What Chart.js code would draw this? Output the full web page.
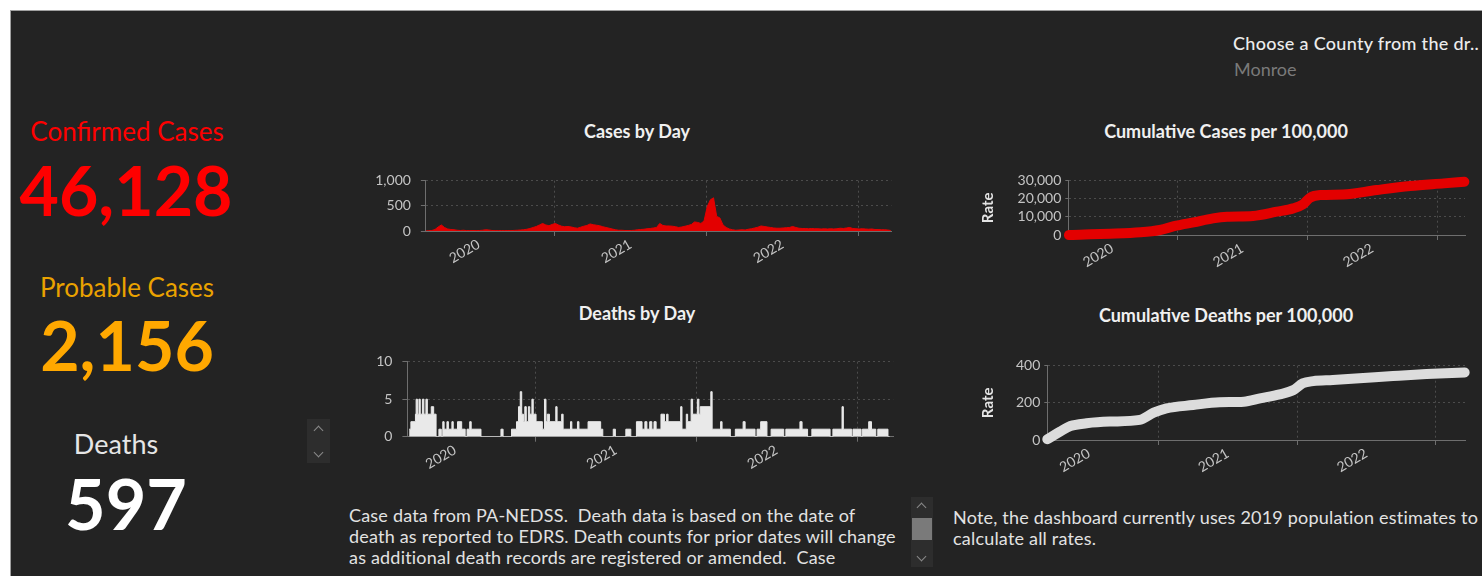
<!DOCTYPE html>
<html><head><meta charset="utf-8">
<script src="https://cdn.jsdelivr.net/npm/chart.js@4.4.0/dist/chart.umd.min.js"></script>
<style>
html,body{margin:0;padding:0;background:#fff;}
body{width:1482px;height:576px;position:relative;overflow:hidden;font-family:Lato,"Noto Sans",sans-serif;}
#panel{position:absolute;left:10px;top:10px;width:1472px;height:566px;background:#232323;border-top:1px solid #a0a0a0;border-left:1px solid #a0a0a0;}
.t{position:absolute;white-space:nowrap;line-height:1;}
.c{transform:translateX(-50%);}
canvas{position:absolute;}
.ttl{font-size:18px;font-weight:700;color:#f0f0f0;}
.big{font-weight:700;}
.para{position:absolute;font-size:18px;letter-spacing:0.2px;line-height:21px;color:#e2e2e2;white-space:nowrap;overflow:hidden;}
.sb{position:absolute;background:#2d2d2d;}
.chev{position:absolute;width:6px;height:6px;border-left:1.5px solid #8a8a8a;border-top:1.5px solid #8a8a8a;}
.up{transform:rotate(45deg);}
.dn{transform:rotate(225deg);}
</style>
</head><body>
<div id="panel"></div>

<div class="t" style="left:1233px;top:34px;font-size:18px;letter-spacing:0.3px;font-weight:500;color:#ececec;">Choose a County from the dr..</div>
<div class="t" style="left:1234px;top:60px;font-size:18px;color:#7a7a7a;">Monroe</div>

<div class="t c" style="left:127px;top:118px;font-size:26px;color:#ff0000;">Confirmed Cases</div>
<div class="t c big" style="left:126px;top:156px;font-size:68px;color:#ff0000;">46,128</div>
<div class="t c" style="left:127px;top:274px;font-size:26px;color:#eaa200;">Probable Cases</div>
<div class="t c big" style="left:127px;top:311px;font-size:68px;color:#ffa800;">2,156</div>
<div class="t c" style="left:116px;top:430px;font-size:27px;color:#e6e6e6;">Deaths</div>
<div class="t c big" style="left:126px;top:468px;font-size:70px;color:#ffffff;">597</div>

<div class="sb" style="left:307px;top:419px;width:23px;height:44px;"></div>
<div class="chev up" style="left:315px;top:427px;"></div>
<div class="chev dn" style="left:315px;top:449px;"></div>

<div class="t c ttl" style="left:637px;top:122px;">Cases by Day</div>
<div class="t c ttl" style="left:637px;top:304px;">Deaths by Day</div>
<div class="t c ttl" style="left:1226px;top:122px;">Cumulative Cases per 100,000</div>
<div class="t c ttl" style="left:1226px;top:306px;">Cumulative Deaths per 100,000</div>

<canvas id="cA" width="560" height="110" style="left:340px;top:170px"></canvas>
<canvas id="cB" width="560" height="130" style="left:340px;top:350px"></canvas>
<canvas id="cC" width="515" height="110" style="left:960px;top:170px"></canvas>
<canvas id="cD" width="515" height="125" style="left:960px;top:355px"></canvas>

<div class="para" style="left:349px;top:505px;width:560px;height:63px;">Case data from PA-NEDSS.&nbsp; Death data is based on the date of<br>death as reported to EDRS. Death counts for prior dates will change<br>as additional death records are registered or amended.&nbsp; Case</div>

<div class="sb" style="left:911px;top:497px;width:22px;height:70px;"></div>
<div class="chev up" style="left:918px;top:504px;"></div>
<div style="position:absolute;left:912px;top:518px;width:20px;height:22px;background:#7a7a7a;"></div>
<div class="chev dn" style="left:918px;top:553px;"></div>

<div class="para" style="left:953px;top:507px;width:529px;height:50px;">Note, the dashboard currently uses 2019 population estimates to<br>calculate all rates.</div>

<script>
// ---- data (x = months since Jan 1 2020) ----
const caseStartMonth = 1.8;
const caseWeekStep = 0.25;
const casesByDay = [0,5,10,30,80,120,70,40,30,25,
 15,10,15,8,8,10,8,10,15,25,
 20,10,8,8,10,8,10,8,12,15,
 20,25,35,50,70,90,120,150,120,105,
 130,150,120,95,85,90,80,65,55,75,
 95,110,140,125,115,105,85,70,55,40,
 25,15,15,10,10,10,15,25,30,35,
 45,50,60,70,150,110,100,100,95,85,
 70,80,95,110,130,180,170,150,200,480,
 620,660,290,260,120,70,40,25,15,20,
 25,20,35,45,60,75,100,90,80,70,
 60,55,55,60,65,70,90,70,55,50,
 50,45,50,45,45,40,45,40,45,40,
 45,55,50,60,70,50,45,40,45,40,
 35,40,30,30,25,25,20,10];

const deathSteps = [[2.58,1],[2.71,2],[3.05,3],[3.10,5],[3.20,3],[3.31,5],[3.41,3],[3.57,5],[3.68,3],[3.83,5],
 [3.94,3],[4.23,4],[4.41,3],[4.59,0],[4.80,1],[4.98,0],[5.09,2],[5.19,1],[5.40,2],[5.51,1],
 [5.77,2],[5.87,1],[6.19,2],[6.50,1],[6.76,0],[6.90,1],[7.10,2],[7.21,1],[7.94,0],[9.43,1],
 [9.59,0],[10.22,1],[10.59,2],[10.74,4],[10.87,6],[10.98,3],[11.11,2],[11.21,4],[11.32,2],[11.48,4],
 [11.58,3],[11.74,5],[11.84,3],[12.05,2],[12.52,1],[12.68,5],[12.79,2],[12.89,3],[13.05,2],[13.52,4],
 [13.62,2],[13.96,3],[14.07,1],[14.62,2],[14.72,1],[15.14,2],[15.25,1],[15.93,2],[16.87,1],[17.03,0],
 [17.81,1],[17.97,0],[18.75,1],[19.12,0],[19.54,2],[19.96,1],[20.17,2],[20.32,1],[20.53,2],[20.69,1],
 [20.85,2],[21.01,1],[21.37,3],[21.63,2],[21.79,3],[21.90,2],[22.84,4],[22.94,1],[23.26,3],[23.36,2],
 [23.62,5],[23.73,3],[24.09,5],[24.20,3],[24.30,4],[25.09,6],[25.19,1],[25.82,2],[25.93,1],[26.55,0],
 [26.92,1],[27.50,2],[27.65,1],[28.39,0],[28.54,1],[28.81,2],[29.28,0],[29.59,1],[30.53,0],[30.69,1],
 [31.74,2],[31.90,1],[32.31,0],[32.63,1],[33.99,0],[34.20,1],[34.88,4],[34.98,1],[35.60,0],[35.70,1],
 [36.30,0],[36.40,1],[36.87,2],[37.08,1],[37.40,0],[37.55,1],[38.31,0],[38.44,0]];

const cumCases = [[2.0,0],[3.0,200],[4.0,450],[5.8,700],[8.6,1470],[10.4,2760],[11.9,5150],[13.5,6990],
 [15.3,9200],[16.6,10100],[19.0,10500],[21.2,12880],[22.7,14720],[23.6,16930],[24.25,20610],[25.2,22090],
 [27.3,22400],[30.4,24850],[33.5,27050],[36.6,28530],[38.5,29450]];

const cumDeaths = [[2.4,4],[3.5,45],[4.4,75],[5.8,90],[7.8,99],[10.4,108],[11.6,147],[12.7,170],
 [15.0,188],[17.3,203],[19.4,206],[20.8,224],[22.5,246],[23.7,269],[24.5,305],[25.4,317],
 [27.1,323],[29.4,332],[32.3,344],[35.2,355],[38.5,364]];

const yearLabels = ['2020','2021','2022'];
const yearLabelMonths = [6,18,30];
const yearStartMonths = [12,24,36];

// ---- styling ----
const FONT = 'Lato, "Noto Sans", sans-serif';
const TICK = '#c4c4c4';
const GRID = '#4c4c4c';
const AXIS = '#6e6e6e';
const RED = '#e30000';
const LIGHT = '#e9e9e9';
const CLEAR = 'rgba(0,0,0,0)';

function xScale(min, max, h, pad) {
  return {
    type: 'linear', min: min, max: max,
    afterBuildTicks(s) { s.ticks = yearLabelMonths.concat(yearStartMonths).sort((a,b)=>a-b).map(v => ({value: v})); },
    afterFit(s) { s.height = h; s.paddingLeft = 0; s.paddingRight = 0; },
    ticks: { autoSkip: false, minRotation: 30, maxRotation: 30, padding: pad, color: TICK,
      font: {family: FONT, size: 14},
      callback(v) { const k = yearLabelMonths.indexOf(v); return k >= 0 ? yearLabels[k] : ''; } },
    grid: { color: c => (c.tick && yearStartMonths.includes(c.tick.value)) ? GRID : CLEAR,
      tickColor: c => (c.tick && yearStartMonths.includes(c.tick.value)) ? AXIS : CLEAR,
      tickLength: 5 },
    border: { color: AXIS, dash: [2, 3] }
  };
}
function yScale(max, step, w, tickLen, pad, title) {
  const s = {
    min: 0, max: max,
    afterFit(sc) { sc.width = w; sc.paddingTop = 0; sc.paddingBottom = 0; },
    ticks: { stepSize: step, autoSkip: false, padding: pad, color: TICK, font: {family: FONT, size: 14} },
    grid: { color: GRID, tickColor: AXIS, tickLength: tickLen },
    border: { color: AXIS, dash: [2, 3] }
  };
  if (title) s.title = { display: true, text: title, color: '#e4e4e4', font: {family: FONT, size: 15, weight: 'bold'}, padding: {top: 19, bottom: 0} };
  return s;
}
function baseOpts(pad, xs, ys) {
  return {
    responsive: false, animation: false, devicePixelRatio: 1,
    layout: { padding: pad },
    plugins: { legend: {display: false}, tooltip: {enabled: false}, title: {display: false} },
    scales: { x: xs, y: ys }
  };
}

new Chart(document.getElementById('cA'), {
  type: 'line',
  data: { datasets: [{
    data: casesByDay.map((v, i) => ({x: caseStartMonth + i * caseWeekStep, y: v})),
    borderColor: RED, backgroundColor: RED, borderWidth: 1, pointRadius: 0, fill: 'origin', tension: 0
  }]},
  options: baseOpts({left: 0, top: 10.7, right: 8.6, bottom: 0},
    xScale(1.83, 38.6, 49, 0), yScale(1000, 500, 85.9, 5, 10))
});

new Chart(document.getElementById('cB'), {
  type: 'line',
  data: { datasets: [{
    data: deathSteps.map(p => ({x: p[0], y: p[1]})),
    borderColor: LIGHT, backgroundColor: LIGHT, borderWidth: 1, pointRadius: 0, fill: 'origin', stepped: true
  }]},
  options: baseOpts({left: 0, top: 11.7, right: 6.8, bottom: 0},
    xScale(2.45, 38.7, 43.3, 0), yScale(10, 5, 67.4, 5, 10))
});

new Chart(document.getElementById('cC'), {
  type: 'line',
  data: { datasets: [{
    data: cumCases.map(p => ({x: p[0], y: p[1]})),
    borderColor: RED, borderWidth: 10, borderCapStyle: 'round', borderJoinStyle: 'round',
    pointRadius: 0, fill: false, cubicInterpolationMode: 'monotone', clip: false
  }]},
  options: baseOpts({left: 0, top: 10.7, right: 10, bottom: 0},
    xScale(1.94, 38.56, 45, 0), yScale(30000, 10000, 108.3, 3, 4, 'Rate'))
});

new Chart(document.getElementById('cD'), {
  type: 'line',
  data: { datasets: [{
    data: cumDeaths.map(p => ({x: p[0], y: p[1]})),
    borderColor: '#dcdcdc', borderWidth: 10, borderCapStyle: 'round', borderJoinStyle: 'round',
    pointRadius: 0, fill: false, cubicInterpolationMode: 'monotone', clip: false
  }]},
  options: baseOpts({left: 0, top: 10.7, right: 10, bottom: 0},
    xScale(2.40, 38.53, 40, 0), yScale(400, 200, 87.3, 3, 4, 'Rate'))
});
</script>
</body></html>
